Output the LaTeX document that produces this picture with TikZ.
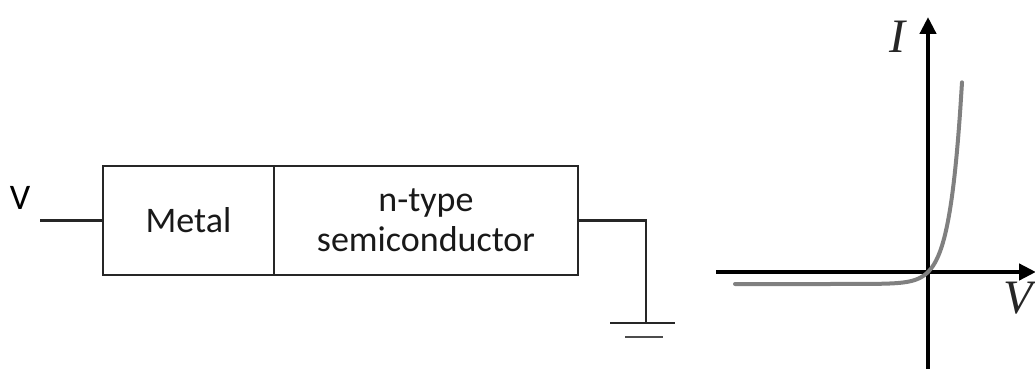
\documentclass[tikz,border=0pt]{standalone}
\usepackage{fontspec}
\setmainfont{Carlito}
\newfontfamily\axisfont{Liberation Serif}
\usetikzlibrary{arrows.meta}
\begin{document}
\begin{tikzpicture}[x=1pt,y=-1pt,
  wire/.style={line width=2.6pt,draw=black!85},
  block/.style={draw=black!85,line width=2.6pt,minimum height=109pt,inner sep=0pt,
    font=\fontsize{36}{40}\selectfont,align=center,text=black!90},
  axis/.style={line width=4.5pt,-{Triangle[length=17pt,width=16pt]}},
  axlabel/.style={font=\axisfont\itshape\fontsize{48}{48}\selectfont,inner sep=0pt,text=black!85}]
\useasboundingbox (0,0) rectangle (1035,369);

% metal / semiconductor stack
\node[block,minimum width=171pt] (metal) at (188.5,220.5) {Metal};
\node[block,minimum width=304pt] (semi) at (426,220.5) {n-type\\semiconductor};

% bias terminal
\node[font=\fontsize{36}{40}\selectfont,inner sep=0pt] (vlabel) at (20,198) {V};
\coordinate (vin) at (40,220.5);
\draw[wire] (vin) -- (metal.west);

% ground connection
\coordinate (gnd) at (646,323);
\draw[wire] (semi.east) -- (646,220.5) -- (gnd);
\draw[wire] (610,323) -- (675,323);
\draw[wire,black!70] (625,337) -- (663,337);

% I-V characteristic
\coordinate (origin) at (928,272);
\coordinate (ytip) at (928,17);
\coordinate (ybot) at (928,369);
\coordinate (xtip) at (1036,272);
\coordinate (xleft) at (716,272);
\draw[axis] (ybot) -- (ytip);
\draw[axis] (xleft) -- (xtip);
\node[axlabel] (ilabel) at (897,37) {I};
\node[axlabel] (vaxis) at (1018,298) {V};
\draw[line width=4pt,gray,line cap=round,smooth]
  plot[domain=735:962,samples=120] (\x,{272-12*(exp(0.083*(\x-928))-1)});
\end{tikzpicture}
\end{document}
